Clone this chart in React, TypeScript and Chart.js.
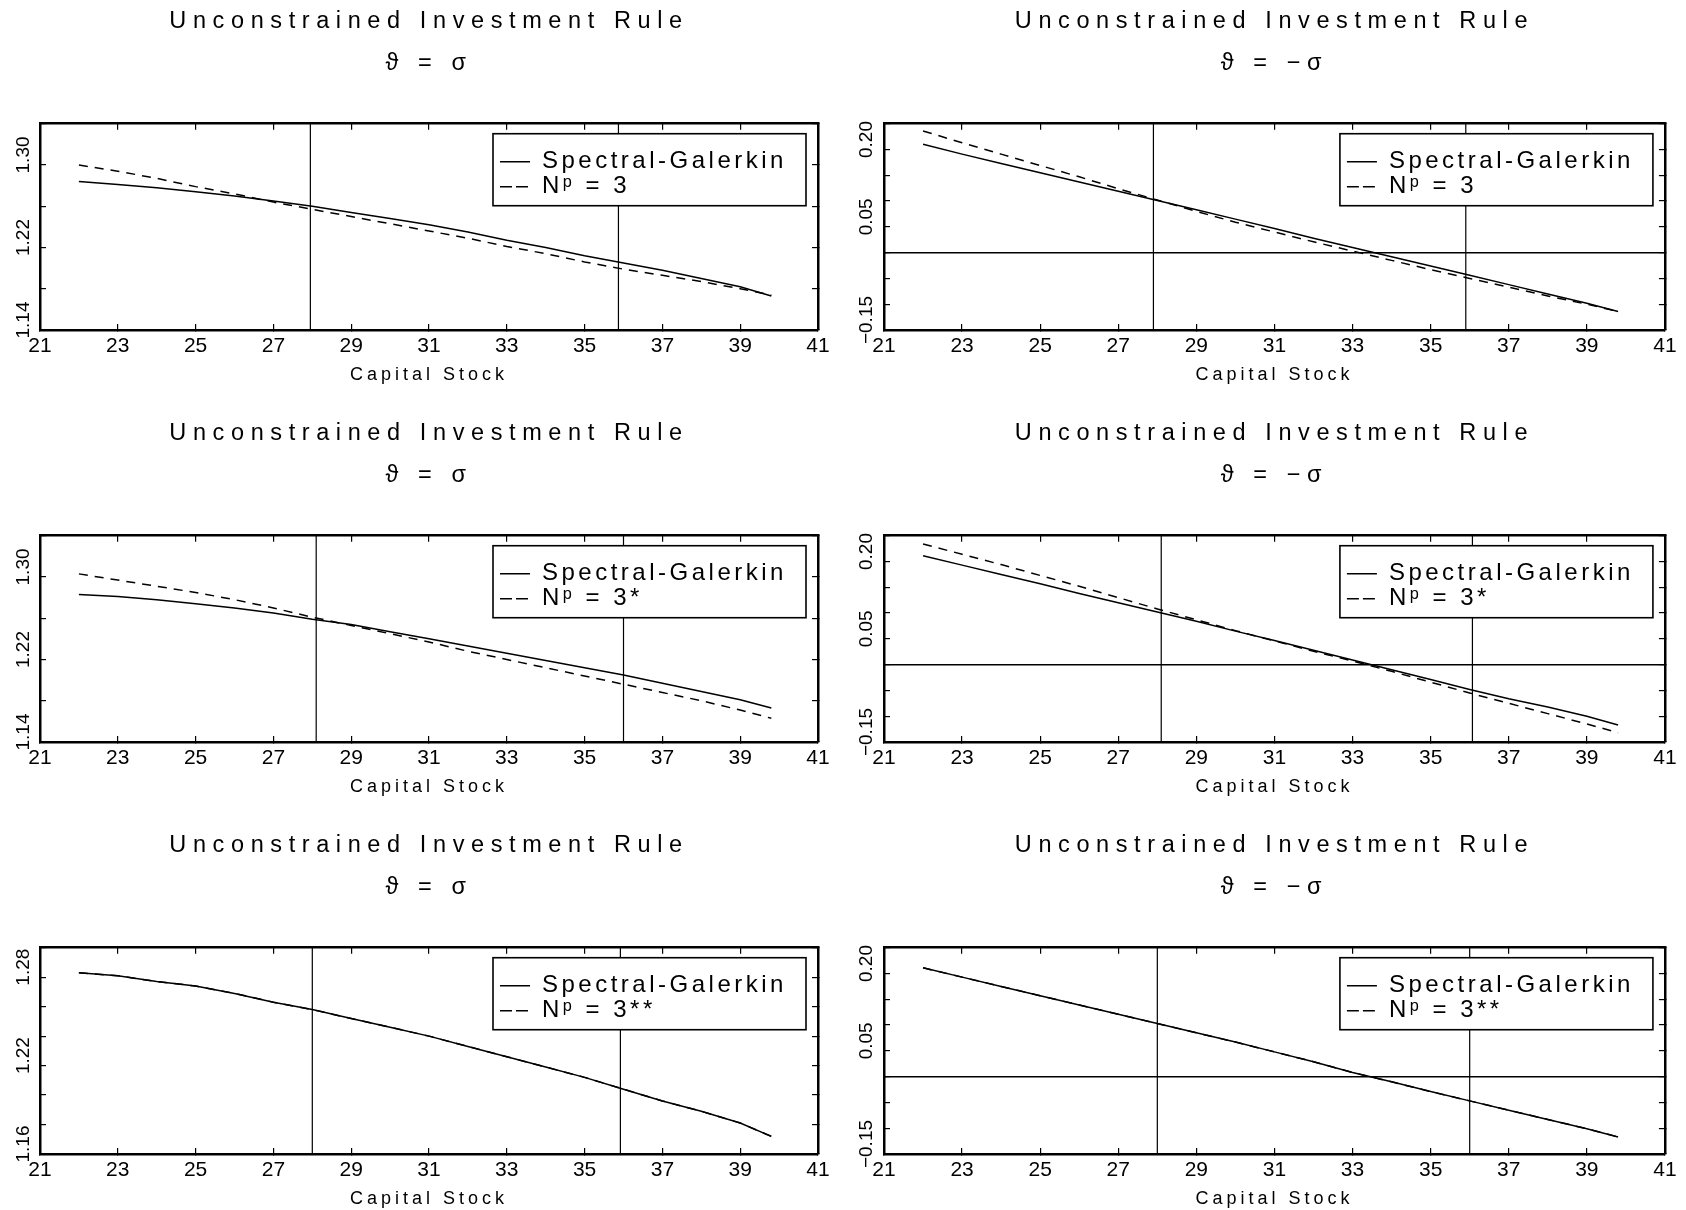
import React, { useEffect, useRef } from 'react';
import { Chart, registerables } from 'chart.js';

Chart.register(...registerables);

const FONT = "'Liberation Sans', Arial, 'DejaVu Sans', sans-serif";
Chart.defaults.font.family = FONT;
Chart.defaults.color = '#000';

// ---------------- data ----------------
const capital = [22, 23, 24, 25, 26, 27, 28, 29, 30, 31, 32, 33, 34, 35, 36, 37, 38, 39, 39.8];

const titleLine = 'Unconstrained Investment Rule';
const thetaPlus = 'ϑ = σ';
const thetaMinus = 'ϑ = −σ';
const sgLabel = 'Spectral-Galerkin';
const npLabel1 = 'Nᵖ = 3';
const npLabel2 = 'Nᵖ = 3*';
const npLabel3 = 'Nᵖ = 3**';
const xTitle = 'Capital Stock';

const sgTopLeft = [1.284, 1.281, 1.278, 1.274, 1.270, 1.265, 1.260, 1.254, 1.248, 1.242, 1.235, 1.227, 1.220, 1.212, 1.205, 1.198, 1.190, 1.182, 1.173];
const npTopLeft = [1.300, 1.294, 1.287, 1.279, 1.272, 1.264, 1.257, 1.250, 1.243, 1.236, 1.229, 1.221, 1.214, 1.206, 1.199, 1.193, 1.187, 1.180, 1.174];
const sgTopRight = [0.210, 0.191, 0.173, 0.155, 0.137, 0.119, 0.101, 0.083, 0.065, 0.047, 0.028, 0.010, -0.008, -0.026, -0.044, -0.062, -0.080, -0.098, -0.114];
const npTopRight = [0.236, 0.213, 0.191, 0.169, 0.147, 0.124, 0.102, 0.080, 0.059, 0.040, 0.021, 0.003, -0.015, -0.033, -0.050, -0.067, -0.084, -0.100, -0.114];
const sgMidLeft = [1.283, 1.281, 1.278, 1.274, 1.270, 1.265, 1.259, 1.254, 1.247, 1.240, 1.233, 1.226, 1.219, 1.212, 1.205, 1.197, 1.189, 1.181, 1.173];
const npMidLeft = [1.303, 1.297, 1.291, 1.285, 1.278, 1.270, 1.261, 1.253, 1.245, 1.237, 1.228, 1.220, 1.212, 1.204, 1.196, 1.188, 1.180, 1.171, 1.163];
const sgMidRight = [0.211, 0.193, 0.175, 0.157, 0.138, 0.120, 0.102, 0.084, 0.065, 0.047, 0.028, 0.009, -0.010, -0.029, -0.048, -0.066, -0.082, -0.100, -0.117];
const npMidRight = [0.234, 0.214, 0.194, 0.173, 0.152, 0.130, 0.108, 0.087, 0.066, 0.046, 0.026, 0.007, -0.013, -0.034, -0.055, -0.075, -0.095, -0.115, -0.132];
const sgBotLeft = [1.283, 1.281, 1.277, 1.274, 1.269, 1.263, 1.258, 1.252, 1.246, 1.240, 1.233, 1.226, 1.219, 1.212, 1.204, 1.196, 1.189, 1.181, 1.172];
const npBotLeft = [1.283, 1.281, 1.277, 1.274, 1.269, 1.263, 1.258, 1.252, 1.246, 1.240, 1.233, 1.226, 1.219, 1.212, 1.204, 1.196, 1.189, 1.181, 1.172];
const sgBotRight = [0.211, 0.193, 0.175, 0.157, 0.139, 0.121, 0.103, 0.085, 0.067, 0.048, 0.029, 0.008, -0.010, -0.029, -0.047, -0.065, -0.083, -0.101, -0.117];
const npBotRight = [0.211, 0.193, 0.175, 0.157, 0.139, 0.121, 0.103, 0.085, 0.067, 0.048, 0.029, 0.008, -0.010, -0.029, -0.047, -0.065, -0.083, -0.101, -0.117];

// vertical marker lines (capital stock values)
const marksTopLeft = [27.95, 35.87];
const marksTopRight = [27.9, 35.9];
const marksMidLeft = [28.1, 36.0];
const marksMidRight = [28.1, 36.07];
const marksBotLeft = [28.0, 35.92];
const marksBotRight = [28.0, 36.0];

// y axes: range, step and labelled ticks
const yWideRange = [1.14, 1.34];
const yWideStep = 0.04;
const yWideLabels = [1.14, 1.22, 1.30];
const yNarrowRange = [1.16, 1.30];
const yNarrowStep = 0.02;
const yNarrowLabels = [1.16, 1.22, 1.28];
const yRightRange = [-0.15, 0.25];
const yRightStep = 0.05;
const yRightLabels = [-0.15, 0.05, 0.20];

const xRange = [21, 41];
const xStep = 2;

// ---------------- panels ----------------
type PanelCfg = {
  key: string;
  left: number; top: number; w: number; h: number;
  padR: number; yW: number; yPad: number;
  sub: string; npLabel: string;
  sg: number[]; np: number[]; marks: number[];
  yRange: number[]; yStep: number; yLabels: number[];
  zeroLine: boolean;
};

const LEFT = { left: 0, w: 843, padR: 25, yW: 40, yPad: 4 };
const RIGHT = { left: 843, w: 843, padR: 21, yW: 41, yPad: -0.5 };
const ROW_TOPS = [0, 412, 824];
const H = 386;

const panels: PanelCfg[] = [
  { key: 'tl', ...LEFT, top: ROW_TOPS[0], h: H, sub: thetaPlus, npLabel: npLabel1, sg: sgTopLeft, np: npTopLeft, marks: marksTopLeft, yRange: yWideRange, yStep: yWideStep, yLabels: yWideLabels, zeroLine: false },
  { key: 'tr', ...RIGHT, top: ROW_TOPS[0], h: H, sub: thetaMinus, npLabel: npLabel1, sg: sgTopRight, np: npTopRight, marks: marksTopRight, yRange: yRightRange, yStep: yRightStep, yLabels: yRightLabels, zeroLine: true },
  { key: 'ml', ...LEFT, top: ROW_TOPS[1], h: H, sub: thetaPlus, npLabel: npLabel2, sg: sgMidLeft, np: npMidLeft, marks: marksMidLeft, yRange: yWideRange, yStep: yWideStep, yLabels: yWideLabels, zeroLine: false },
  { key: 'mr', ...RIGHT, top: ROW_TOPS[1], h: H, sub: thetaMinus, npLabel: npLabel2, sg: sgMidRight, np: npMidRight, marks: marksMidRight, yRange: yRightRange, yStep: yRightStep, yLabels: yRightLabels, zeroLine: true },
  { key: 'bl', ...LEFT, top: ROW_TOPS[2], h: H, sub: thetaPlus, npLabel: npLabel3, sg: sgBotLeft, np: npBotLeft, marks: marksBotLeft, yRange: yNarrowRange, yStep: yNarrowStep, yLabels: yNarrowLabels, zeroLine: false },
  { key: 'br', ...RIGHT, top: ROW_TOPS[2], h: H, sub: thetaMinus, npLabel: npLabel3, sg: sgBotRight, np: npBotRight, marks: marksBotRight, yRange: yRightRange, yStep: yRightStep, yLabels: yRightLabels, zeroLine: true },
];

const LEG_W = 313;
const LEG_H = 72;

function drawLegendLayer(chart: any) {
  const lg = chart.legend;
  const box = lg && lg.__box;
  if (!lg || !box) return;
  const ctx = chart.ctx;
  ctx.save();
  ctx.fillStyle = '#fff';
  ctx.fillRect(box.bx, box.by, box.bw, box.bh);
  ctx.strokeStyle = '#000';
  ctx.lineWidth = 1.6;
  ctx.strokeRect(box.bx, box.by, box.bw, box.bh);
  (ctx as any).letterSpacing = '3.5px';
  lg.draw();
  ctx.restore();
}

const gaussPlugin = {
  id: 'gaussLook',
  afterInit(chart: any) {
    const lg = chart.legend;
    if (lg) {
      lg._layers = () => [{ z: 1, draw: () => drawLegendLayer(chart) }];
    }
    const tb = chart.titleBlock;
    if (tb) {
      const orig = tb.draw.bind(tb);
      tb.draw = () => {
        const c = chart.ctx;
        c.save();
        c.letterSpacing = '6.6px';
        orig();
        c.restore();
      };
    }
  },
  afterLayout(chart: any) {
    const lg = chart.legend;
    const ca = chart.chartArea;
    if (!lg || !ca) return;
    const bx = ca.right - 12 - LEG_W;
    const by = ca.top + 10;
    lg.__box = { bx, by, bw: LEG_W, bh: LEG_H };
    lg.left = bx + 6;
    lg.right = bx + LEG_W;
    lg.top = by + 15;
    lg.bottom = ca.bottom;
  },
  beforeDraw(chart: any) {
    const xs = chart.scales && chart.scales.x;
    if (xs && !xs.__patched) {
      const orig = xs.drawTitle.bind(xs);
      xs.drawTitle = () => {
        const c = chart.ctx;
        c.save();
        c.letterSpacing = '4px';
        orig();
        c.restore();
      };
      xs.__patched = true;
    }
  },
};

function near(list: number[], v: number) {
  return list.some((l) => Math.abs(l - v) < 1e-6);
}

function fmtY(v: number) {
  const s = Math.abs(v).toFixed(2);
  return v < -1e-9 ? '\u2212' + s : s;
}

function buildConfig(p: PanelCfg): any {
  const lineStyle = { borderColor: '#000', pointRadius: 0, fill: false, tension: 0 };
  const [yMin, yMax] = p.yRange;
  const datasets: any[] = [
    { ...lineStyle, label: sgLabel, borderWidth: 1.5, data: capital.map((x, i) => ({ x, y: p.sg[i] })) },
    { ...lineStyle, label: p.npLabel, borderWidth: 1.5, borderDash: [9, 7], data: capital.map((x, i) => ({ x, y: p.np[i] })) },
  ];
  p.marks.forEach((m, i) => {
    datasets.push({ ...lineStyle, label: 'mark' + i, borderWidth: 1.2, data: [{ x: m, y: yMin }, { x: m, y: yMax }] });
  });
  if (p.zeroLine) {
    datasets.push({ ...lineStyle, label: 'zero', borderWidth: 1.5, data: [{ x: xRange[0], y: 0 }, { x: xRange[1], y: 0 }] });
  }

  const grid = { drawOnChartArea: false, drawTicks: true, tickLength: -6, color: '#000', lineWidth: 1.2 };
  const border = { display: true, color: '#000', width: 2.5 };

  return {
    type: 'line',
    data: { datasets },
    options: {
      responsive: false,
      animation: false,
      devicePixelRatio: 1,
      events: [],
      layout: { padding: { left: 0, right: p.padR, top: 0, bottom: 0 } },
      plugins: {
        tooltip: { enabled: false },
        title: {
          display: true,
          text: [titleLine, p.sub],
          fullSize: false,
          color: '#000',
          font: { family: FONT, size: 23.5, weight: 'normal', lineHeight: 1.76 },
          padding: { top: 1, bottom: 40 },
        },
        legend: {
          display: true,
          position: 'chartArea',
          align: 'start',
          labels: {
            boxWidth: 30,
            boxHeight: 0,
            padding: 1,
            color: '#000',
            font: { family: FONT, size: 24 },
            filter: (item: any) => item.datasetIndex < 2,
          },
        },
      },
      scales: {
        x: {
          type: 'linear', position: 'bottom', min: xRange[0], max: xRange[1],
          ticks: { stepSize: xStep, autoSkip: false, maxRotation: 0, padding: 9.4, color: '#000', font: { family: FONT, size: 21 }, callback: (v: number) => String(Math.round(v)) },
          grid, border,
          title: { display: true, text: xTitle, color: '#000', font: { family: FONT, size: 18 }, padding: { top: 0, bottom: 0 } },
          afterFit: (s: any) => { s.height = 56; },
        },
        x2: {
          type: 'linear', position: 'top', min: xRange[0], max: xRange[1],
          ticks: { stepSize: xStep, display: false },
          grid, border,
          afterFit: (s: any) => { s.height = 0; },
        },
        y: {
          type: 'linear', position: 'left', min: yMin, max: yMax,
          ticks: {
            stepSize: p.yStep, autoSkip: false, minRotation: 90, maxRotation: 90, crossAlign: 'center', labelOffset: -10, padding: p.yPad,
            color: '#000', font: { family: FONT, size: 19 },
            callback: (v: number) => (near(p.yLabels, v) ? fmtY(v) : ''),
          },
          grid, border,
          afterFit: (s: any) => { s.width = p.yW; },
        },
        y2: {
          type: 'linear', position: 'right', min: yMin, max: yMax,
          ticks: { stepSize: p.yStep, display: false },
          grid, border,
          afterFit: (s: any) => { s.width = 0; },
        },
      },
    },
    plugins: [gaussPlugin],
  };
}

function Panel({ cfg }: { cfg: PanelCfg }) {
  const ref = useRef<HTMLCanvasElement>(null);
  useEffect(() => {
    if (!ref.current) return;
    const chart = new Chart(ref.current, buildConfig(cfg));
    return () => chart.destroy();
  }, [cfg]);
  return (
    <canvas
      ref={ref}
      width={cfg.w}
      height={cfg.h}
      style={{ position: 'absolute', left: cfg.left, top: cfg.top, width: cfg.w, height: cfg.h }}
    />
  );
}

export default function App() {
  return (
    <div style={{ position: 'absolute', left: 0, top: 0, width: 1686, height: 1210, overflow: 'hidden', background: '#fff' }}>
      {panels.map((p) => (
        <Panel key={p.key} cfg={p} />
      ))}
    </div>
  );
}
